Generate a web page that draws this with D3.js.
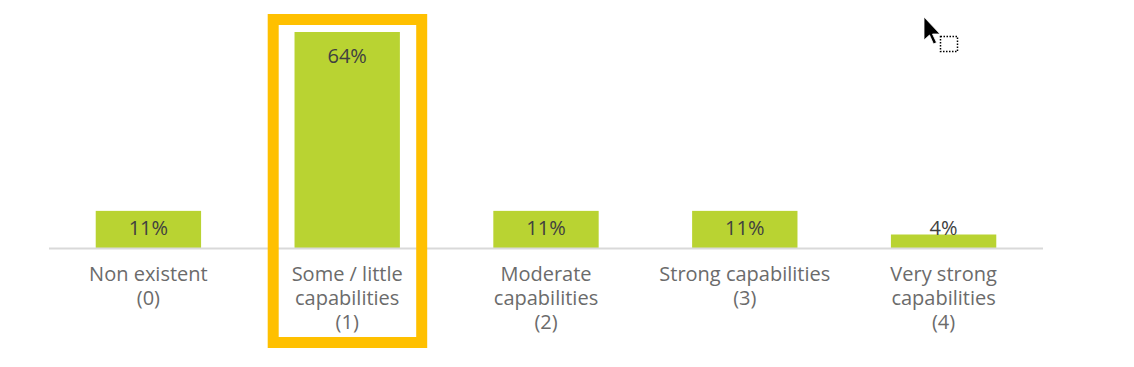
<!DOCTYPE html>
<html><head><meta charset="utf-8">
<script src="https://cdn.jsdelivr.net/npm/d3@7"></script>
<style>body{margin:0;background:#fff;} svg{display:block;}</style>
</head><body>
<svg id="c" width="1134" height="367"></svg>
<script>
const categories = [["Non existent","(0)"],["Some / little","capabilities","(1)"],["Moderate","capabilities","(2)"],["Strong capabilities","(3)"],["Very strong","capabilities","(4)"]];
const values = [11, 64, 11, 11, 4];
const highlighted = 1;

const svg = d3.select("#c");
const font = "'Open Sans', sans-serif";
const x0 = 49, x1 = 1043, baseY = 248;
const x = d3.scaleBand().domain(d3.range(values.length)).range([x0, x1]).paddingInner(0.47).paddingOuter(0.235);
const y = d3.scaleLinear().domain([0, 64]).range([baseY, 32]);

svg.selectAll("rect.bar").data(values).join("rect").attr("class","bar")
  .attr("x",(d,i)=>x(i)).attr("width",x.bandwidth())
  .attr("y",d=>y(d)).attr("height",d=>baseY-y(d)).attr("fill","#B9D332");

svg.append("line").attr("x1",x0).attr("x2",x1).attr("y1",baseY+0.5).attr("y2",baseY+0.5)
  .attr("stroke","#d9d9d9").attr("stroke-width",2);

svg.selectAll("text.val").data(values).join("text").attr("class","val")
  .attr("x",(d,i)=>x(i)+x.bandwidth()/2)
  .attr("y",d=> (baseY-y(d))>40 ? y(d)+31 : baseY-13)
  .attr("text-anchor","middle").attr("font-family",font).attr("font-size",20)
  .attr("fill","#404040").text(d=>d+"%");

const g = svg.selectAll("text.cat").data(categories).join("text").attr("class","cat")
  .attr("text-anchor","middle").attr("font-family",font).attr("font-size",20).attr("fill","#6b6b6b");
g.each(function(lines,i){
  d3.select(this).selectAll("tspan").data(lines).join("tspan")
    .attr("x",x(i)+x.bandwidth()/2).attr("y",(l,j)=>281+j*24).text(l=>l);
});

// highlight box
const hx = x(highlighted)+x.bandwidth()/2;
svg.append("rect").attr("x",hx-74).attr("y",19.5).attr("width",148.5).attr("height",323)
  .attr("fill","none").attr("stroke","#FFC000").attr("stroke-width",11);

// cursor decoration
const cur = svg.append("g").attr("transform","translate(924,17)");
cur.append("path").attr("d","M0,0 L0,23 L5.5,18 L9.5,27 L12.5,25.5 L8.5,17 L16,17 Z").attr("fill","#000").attr("stroke","#fff").attr("stroke-width",0.8);
cur.append("rect").attr("x",16.5).attr("y",19.5).attr("width",17).attr("height",15).attr("fill","none")
  .attr("stroke","#000").attr("stroke-width",1.5).attr("stroke-dasharray","1.5,1.5");
</script>
</body></html>
